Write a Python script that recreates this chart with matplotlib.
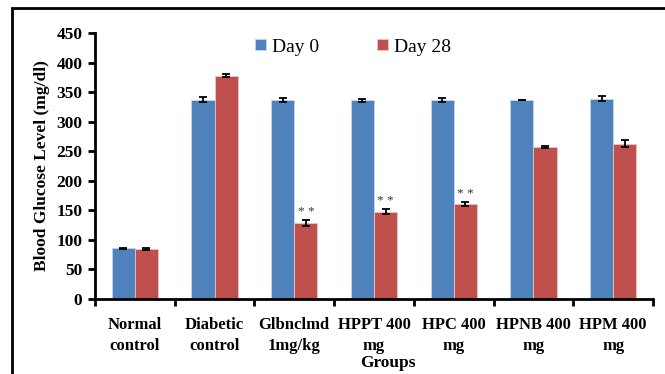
import matplotlib.pyplot as plt
import numpy as np
from matplotlib.patches import Rectangle

# ── Data ──────────────────────────────────────────────────────────────────────

groups = ["Normal\ncontrol", "Diabetic\ncontrol", "Glbnclmd\n1mg/kg",
          "HPPT 400\nmg", "HPC 400\nmg", "HPNB 400\nmg", "HPM 400\nmg"]
day0 = [86, 337, 337, 336, 337, 337, 339]
day0_err = [1, 4, 3, 3, 3, 0, 4]
day28 = [85, 378, 129, 148, 161, 257, 263]
day28_err = [1.5, 3, 5, 4, 3, 2, 6]
significant = [False, False, True, True, True, False, False]

BLUE = "#4F81BD"
RED = "#C0504D"
SERIF = "Liberation Serif"

# ── Figure ────────────────────────────────────────────────────────────────────

fig = plt.figure(figsize=(6.65, 3.74), dpi=100)
ax = fig.add_axes([95 / 665, 1 - 299 / 374, (653 - 95) / 665, (299 - 33) / 374])

x = np.arange(len(groups))
w = 0.29
err_kw = dict(ecolor="black", capsize=3, elinewidth=1.3, capthick=1.3)
ax.bar(x - w / 2, day0, w, yerr=day0_err, color=BLUE, edgecolor="#c8d6ea",
       linewidth=0.6, label="Day 0", error_kw=err_kw)
ax.bar(x + w / 2, day28, w, yerr=day28_err, color=RED, edgecolor="#ebc4c3",
       linewidth=0.6, label="Day 28", error_kw=err_kw)

for i, sig in enumerate(significant):
    if sig:
        ax.text(x[i] + w / 2, day28[i] + day28_err[i] + 3, "* *",
                ha="center", va="bottom", fontsize=9.5, color="#333333",
                family=SERIF)

ax.set_xlim(-0.5, len(groups) - 0.5)
ax.set_ylim(0, 450)
ax.set_yticks(range(0, 451, 50))
ax.set_xticks(x)
ax.set_xticklabels(groups, family=SERIF, fontweight="bold", fontsize=12,
                   linespacing=1.45)
ax.set_xticks(np.arange(-0.5, len(groups), 1), minor=True)
ax.tick_params(axis="x", which="major", length=0, pad=13)
ax.tick_params(axis="x", which="minor", length=5, width=2, direction="out")
ax.tick_params(axis="y", length=5, width=2, direction="out", pad=4)
for lbl in ax.get_yticklabels():
    lbl.set_family(SERIF)
    lbl.set_fontweight("bold")
    lbl.set_fontsize(12.5)

for side in ["top", "right"]:
    ax.spines[side].set_visible(False)
for side in ["left", "bottom"]:
    ax.spines[side].set_linewidth(2)

ax.set_ylabel("Blood Glucose Level (mg/dl)", family=SERIF, fontweight="bold",
              fontsize=12.5, labelpad=5)
fig.text(388 / 665, 1 - 363 / 374, "Groups", ha="center", va="center",
         family=SERIF, fontweight="bold", fontsize=12.5)

leg = ax.legend(ncol=2, frameon=False, loc="center",
                bbox_to_anchor=(353 / 665, 1 - 47 / 374),
                bbox_transform=fig.transFigure, prop={"family": SERIF, "size": 14},
                handlelength=0.55, handleheight=0.55, handletextpad=0.3,
                columnspacing=3.0)

# outer chart border (left and top visible)
fig.patches.append(Rectangle((12 / 665, -0.2), 1.2, 1.2 - 8 / 374,
                             transform=fig.transFigure, fill=False,
                             edgecolor="black", linewidth=2))

fig.savefig("out.png", dpi=100)
